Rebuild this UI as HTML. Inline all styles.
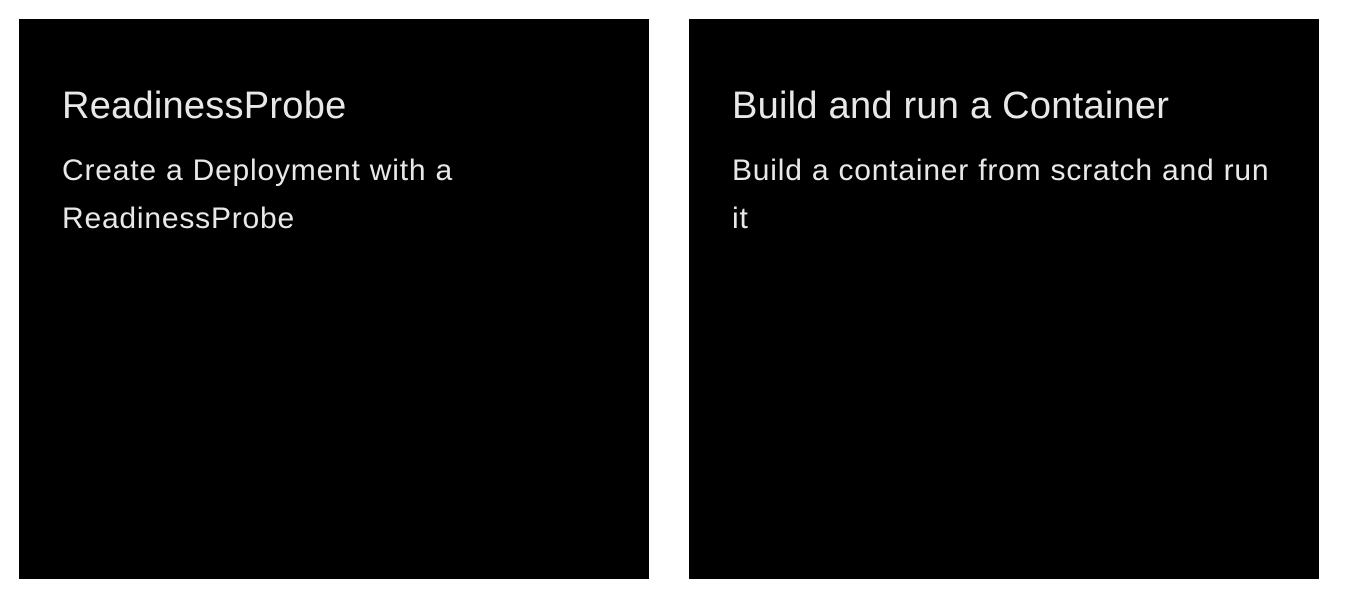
<!DOCTYPE html>
<html><head><style>
html,body{margin:0;padding:0;background:#fff;width:1356px;height:616px;overflow:hidden;font-family:"Liberation Sans",sans-serif;}
.card{position:absolute;top:19px;width:630px;height:560px;background:#000;color:#e8e8e8;}
.card h2{position:absolute;left:43px;top:65px;margin:0;font-weight:400;font-size:38px;line-height:44px;letter-spacing:0.25px;white-space:nowrap;}
.card p{position:absolute;left:43px;top:128px;margin:0;width:580px;font-size:30px;line-height:48px;letter-spacing:0.8px;white-space:nowrap;}
</style></head><body>
<div class="card" style="left:19px"><h2>ReadinessProbe</h2><p>Create a Deployment with a<br>ReadinessProbe</p></div>
<div class="card" style="left:689px"><h2>Build and run a Container</h2><p>Build a container from scratch and run<br>it</p></div>
</body></html>
